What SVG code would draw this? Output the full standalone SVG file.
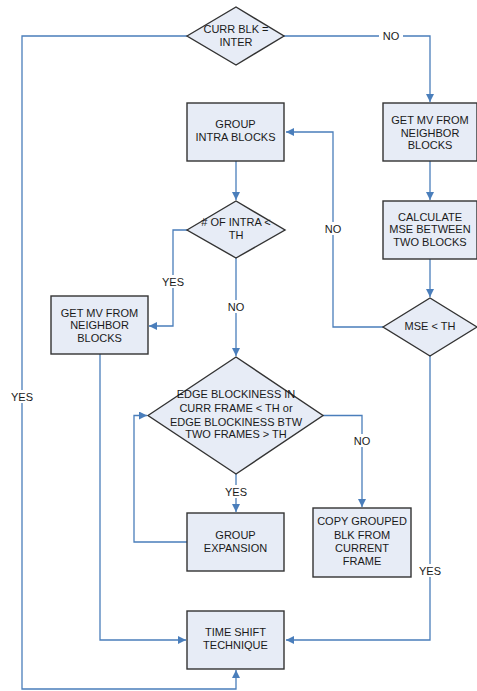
<svg xmlns="http://www.w3.org/2000/svg" width="477" height="691" viewBox="0 0 477 691">
<style>
.n{fill:#e7ecf6;stroke:#333;stroke-width:1.4}
.t{font-family:"Liberation Sans",Arial,sans-serif;font-size:11px;fill:#1a1a1a;text-anchor:middle}
.c{fill:none;stroke:#4a7ebb;stroke-width:1.3}
.bg{fill:#fff}
</style>
<defs>
<marker id="a" markerUnits="userSpaceOnUse" markerWidth="9" markerHeight="8" refX="8" refY="4" orient="auto">
<path d="M0,0 L8,4 L0,8 z" fill="#4a7ebb"/>
</marker>
</defs>
<rect width="477" height="691" fill="#fff"/>
<g id="connectors">
<path class="c" d="M284,36 H430 V102" marker-end="url(#a)"/>
<path class="c" d="M187,36 H22 V689 H236 V670" marker-end="url(#a)"/>
<path class="c" d="M236,161 V200" marker-end="url(#a)"/>
<path class="c" d="M187,230 H173 V326 H149" marker-end="url(#a)"/>
<path class="c" d="M236,258 V356" marker-end="url(#a)"/>
<path class="c" d="M430,161 V200" marker-end="url(#a)"/>
<path class="c" d="M430,259 V297" marker-end="url(#a)"/>
<path class="c" d="M383,327 H333 V132 H286" marker-end="url(#a)"/>
<path class="c" d="M430,356 V640 H286" marker-end="url(#a)"/>
<path class="c" d="M323,415.5 H362 V507" marker-end="url(#a)"/>
<path class="c" d="M236,474 V512" marker-end="url(#a)"/>
<path class="c" d="M187,542 H134 V415.5 H147" marker-end="url(#a)"/>
<path class="c" d="M100,354 V640 H186" marker-end="url(#a)"/>
<g id="labels">
<rect class="bg" x="379" y="30" width="24" height="13"/><text class="t" x="391" y="40">NO</text>
<rect class="bg" x="8" y="390" width="28" height="13"/><text class="t" x="22" y="401">YES</text>
<rect class="bg" x="159" y="275" width="28" height="13"/><text class="t" x="173" y="286">YES</text>
<rect class="bg" x="224" y="300" width="24" height="13"/><text class="t" x="236" y="311">NO</text>
<rect class="bg" x="321" y="222" width="24" height="13"/><text class="t" x="333" y="233">NO</text>
<rect class="bg" x="416" y="564" width="28" height="13"/><text class="t" x="430" y="575">YES</text>
<rect class="bg" x="350" y="434" width="24" height="13"/><text class="t" x="362" y="445">NO</text>
<rect class="bg" x="222" y="485" width="28" height="13"/><text class="t" x="236" y="496">YES</text>
</g>
</g>
<g id="d_curr_blk">
<polygon class="n" points="187,36 236,7 284,36 236,65"/>
<text class="t" x="236" y="33.3">CURR BLK =</text>
<text class="t" x="236" y="46.3">INTER</text>
</g>
<g id="b_group_intra">
<rect class="n" x="187" y="103" width="97" height="58"/>
<text class="t" x="235.5" y="128.3">GROUP</text>
<text class="t" x="235.5" y="141.3">INTRA BLOCKS</text>
</g>
<g id="d_num_intra">
<polygon class="n" points="187,230 236,201 285,230 236,258"/>
<text class="t" x="236" y="226.3"># OF INTRA &lt;</text>
<text class="t" x="236" y="239.3">TH</text>
</g>
<g id="b_getmv_right">
<rect class="n" x="383" y="103" width="94" height="58"/>
<text class="t" x="430" y="124">GET MV FROM</text>
<text class="t" x="430" y="136.5">NEIGHBOR</text>
<text class="t" x="430" y="149">BLOCKS</text>
</g>
<g id="b_calculate">
<rect class="n" x="383" y="201" width="94" height="58"/>
<text class="t" x="430" y="220.7">CALCULATE</text>
<text class="t" x="430" y="233.2">MSE BETWEEN</text>
<text class="t" x="430" y="245.7">TWO BLOCKS</text>
</g>
<g id="d_mse">
<polygon class="n" points="383,327 430,298 477,327 430,356"/>
<text class="t" x="430" y="330">MSE &lt; TH</text>
</g>
<g id="b_getmv_left">
<rect class="n" x="51" y="296" width="97" height="58"/>
<text class="t" x="99.5" y="316.7">GET MV FROM</text>
<text class="t" x="99.5" y="329">NEIGHBOR</text>
<text class="t" x="99.5" y="341.5">BLOCKS</text>
</g>
<g id="d_edge">
<polygon class="n" points="148,415.5 236,357 323,415.5 236,474"/>
<text class="t" x="236" y="398.3">EDGE BLOCKINESS IN</text>
<text class="t" x="236" y="411.7">CURR FRAME &lt; TH or</text>
<text class="t" x="236" y="425.7">EDGE BLOCKINESS BTW</text>
<text class="t" x="236" y="438">TWO FRAMES &gt; TH</text>
</g>
<g id="b_expansion">
<rect class="n" x="187" y="513" width="97" height="58"/>
<text class="t" x="235.5" y="539">GROUP</text>
<text class="t" x="235.5" y="552.3">EXPANSION</text>
</g>
<g id="b_copy">
<rect class="n" x="313" y="508" width="98" height="69"/>
<text class="t" x="362" y="525.3">COPY GROUPED</text>
<text class="t" x="362" y="539">BLK FROM</text>
<text class="t" x="362" y="552.3">CURRENT</text>
<text class="t" x="362" y="565">FRAME</text>
</g>
<g id="b_time_shift">
<rect class="n" x="187" y="611" width="97" height="58"/>
<text class="t" x="235.5" y="636.3">TIME SHIFT</text>
<text class="t" x="235.5" y="649.3">TECHNIQUE</text>
</g>
</svg>
